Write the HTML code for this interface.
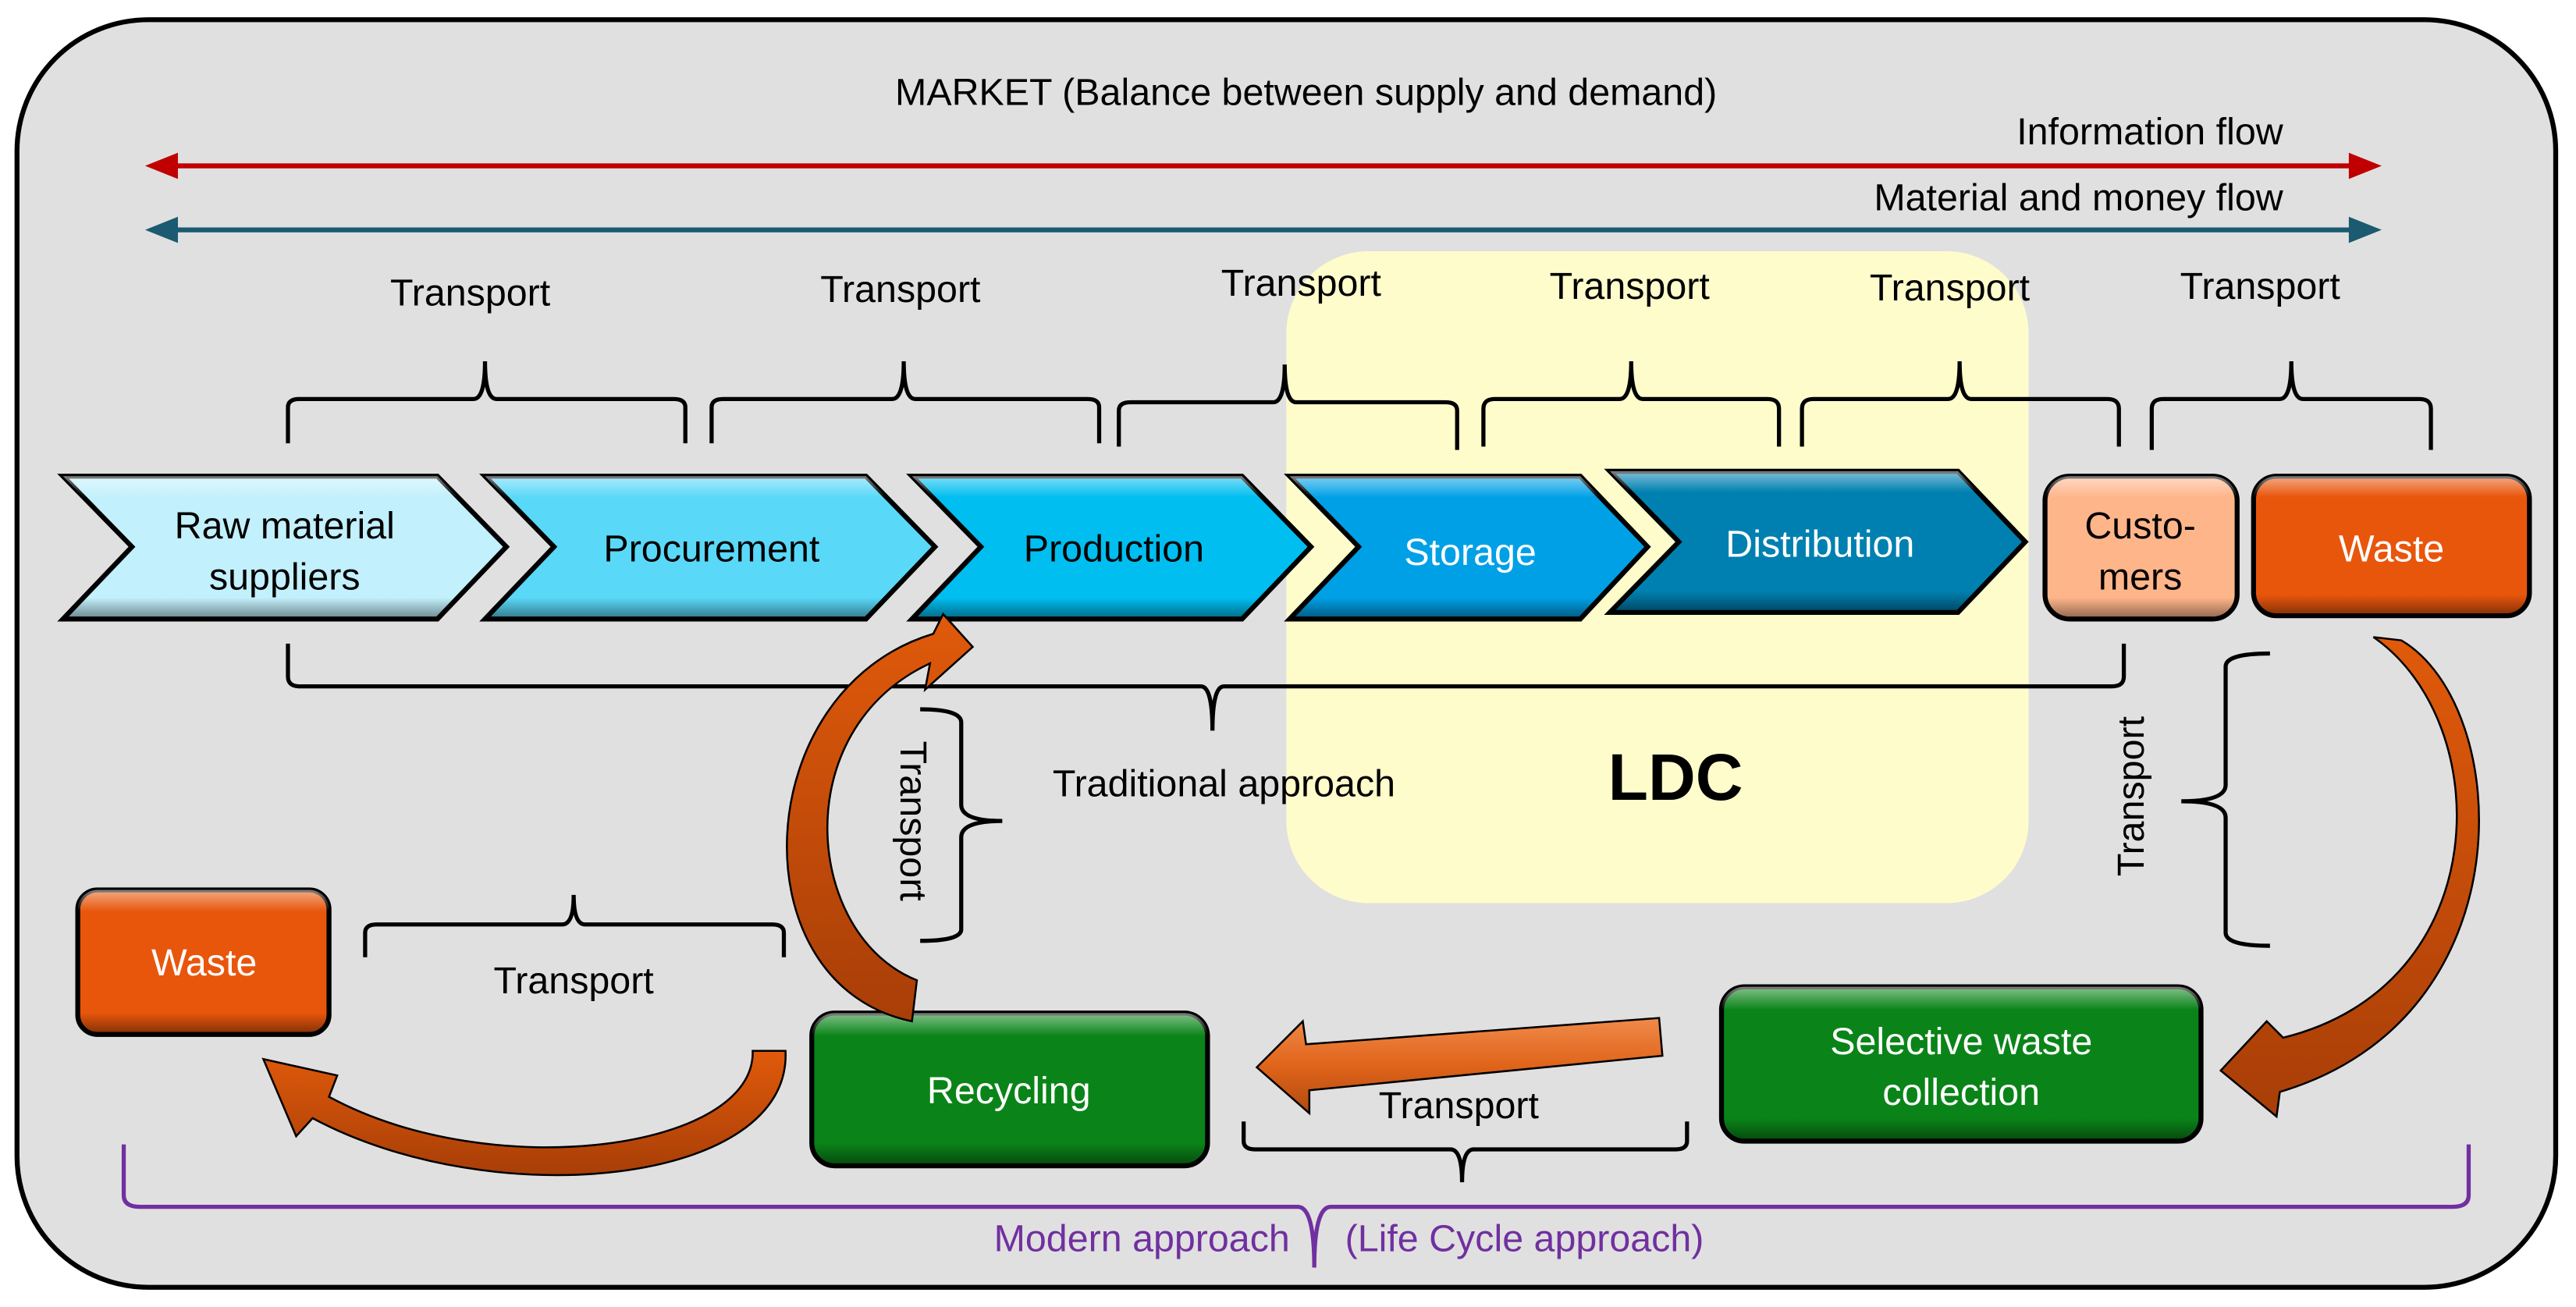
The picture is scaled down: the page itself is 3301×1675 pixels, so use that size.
<!DOCTYPE html>
<html><head><meta charset="utf-8"><style>
html,body{margin:0;padding:0;background:#fff}
svg{display:block}
text{font-family:"Liberation Sans",sans-serif}
</style></head><body>
<svg width="3301" height="1675" viewBox="0 0 1568 796" xmlns="http://www.w3.org/2000/svg">
<defs>
<linearGradient id="gl" x1="0" y1="0" x2="0" y2="1">
<stop offset="0" stop-color="#fff" stop-opacity="0.5"/><stop offset="0.15" stop-color="#fff" stop-opacity="0"/>
<stop offset="0.85" stop-color="#000" stop-opacity="0"/><stop offset="1" stop-color="#000" stop-opacity="0.45"/>
</linearGradient>
<linearGradient id="og" x1="0" y1="0" x2="0" y2="1"><stop offset="0" stop-color="#e05a0a"/><stop offset="1" stop-color="#a83e08"/></linearGradient>
<linearGradient id="og2" x1="0" y1="0" x2="0" y2="1"><stop offset="0" stop-color="#f08a4a"/><stop offset="0.5" stop-color="#e0641a"/><stop offset="1" stop-color="#b04a10"/></linearGradient>
</defs>
<rect x="10" y="12" width="1546" height="772" rx="80" fill="#e0e0e0" stroke="#000" stroke-width="3"/>
<rect x="783" y="153" width="452" height="397" rx="50" fill="#fffccc"/>

<g font-size="23">
<text x="795" y="64" text-anchor="middle">MARKET (Balance between supply and demand)</text>
<text x="1390" y="88" text-anchor="end">Information flow</text>
<text x="1390" y="128" text-anchor="end">Material and money flow</text>
</g>
<line x1="100" y1="101" x2="1438" y2="101" stroke="#c00000" stroke-width="3"/>
<polygon points="88,101 108,93 108,109" fill="#c00000"/><polygon points="1450,101 1430,93 1430,109" fill="#c00000"/>
<line x1="100" y1="140" x2="1438" y2="140" stroke="#1b5a70" stroke-width="3"/>
<polygon points="88,140 108,132 108,148" fill="#1b5a70"/><polygon points="1450,140 1430,132 1430,148" fill="#1b5a70"/>

<g font-size="23" text-anchor="middle">
<text x="286" y="186">Transport</text><text x="548" y="184">Transport</text><text x="792" y="180">Transport</text>
<text x="992" y="182">Transport</text><text x="1187" y="183">Transport</text><text x="1376" y="182">Transport</text>
</g>
<g fill="none" stroke="#000" stroke-width="2.5">
<path d="M175 270 V248 Q175 243 182 243 H288 Q295 243 295 220 Q295 243 302 243 H410 Q417 243 417 248 V270"/>
<path d="M433 270 V248 Q433 243 440 243 H543 Q550 243 550 220 Q550 243 557 243 H662 Q669 243 669 248 V270"/>
<path d="M681 272 V250 Q681 245 688 245 H775 Q782 245 782 222 Q782 245 789 245 H880 Q887 245 887 250 V274"/>
<path d="M903 272 V249 Q903 243 910 243 H986 Q993 243 993 220 Q993 243 1000 243 H1076 Q1083 243 1083 249 V272"/>
<path d="M1097 272 V249 Q1097 243 1104 243 H1186 Q1193 243 1193 220 Q1193 243 1200 243 H1283 Q1290 243 1290 249 V272"/>
<path d="M1310 274 V249 Q1310 243 1317 243 H1388 Q1395 243 1395 220 Q1395 243 1402 243 H1473 Q1480 243 1480 249 V274"/>
<path d="M175 392 V412 Q175 418 182 418 H731 Q738 418 738 445 Q738 418 745 418 H1286 Q1293 418 1293 412 V392"/>
<path d="M560 432 Q585 432 585 440 V490 Q585 500 610 500 Q585 500 585 510 V566 Q585 573 560 573"/>
<path d="M1382 398 Q1355 398 1355 406 V478 Q1355 488 1328 488 Q1355 488 1355 498 V568 Q1355 576 1382 576"/>
<path d="M222 583 V568 Q222 563 229 563 H342 Q349 563 349 545 Q349 563 356 563 H470 Q477 563 477 568 V583"/>
<path d="M757 683 V695 Q757 700 764 700 H883 Q890 700 890 720 Q890 700 897 700 H1020 Q1027 700 1027 695 V683"/>
</g>
<path d="M75 697 V728 Q75 735 85 735 H790 Q800 735 800 772 Q800 735 810 735 H1493 Q1503 735 1503 728 V697" fill="none" stroke="#7030a0" stroke-width="2.5"/>

<g stroke="#000" stroke-width="3">
<path d="M38 290 H266 L308 333 L266 377 H38 L80 333 Z" fill="#c2f0fc"/>
<path d="M295 290 H527 L569 333 L527 377 H295 L337 333 Z" fill="#5ad8f8"/>
<path d="M555 290 H756 L798 333 L756 377 H555 L597 333 Z" fill="#00bef0"/>
<path d="M785 290 H962 L1003 333 L962 377 H785 L827 333 Z" fill="#00a0e6"/>
<path d="M980 287 H1192 L1233 330 L1192 373 H980 L1022 330 Z" fill="#0080b0"/>
<rect x="1245" y="290" width="117" height="87" rx="15" fill="#ffb58a"/>
<rect x="1372" y="290" width="168" height="85" rx="14" fill="#e8560c"/>
<rect x="47" y="542" width="153" height="88" rx="12" fill="#e8560c"/>
<rect x="494" y="617" width="241" height="93" rx="14" fill="#0a8418"/>
<rect x="1048" y="601" width="292" height="94" rx="14" fill="#0a8418"/>
</g>
<g stroke="none" fill="url(#gl)">
<path d="M38 290 H266 L308 333 L266 377 H38 L80 333 Z"/><path d="M295 290 H527 L569 333 L527 377 H295 L337 333 Z"/>
<path d="M555 290 H756 L798 333 L756 377 H555 L597 333 Z"/><path d="M785 290 H962 L1003 333 L962 377 H785 L827 333 Z"/>
<path d="M980 287 H1192 L1233 330 L1192 373 H980 L1022 330 Z"/>
<rect x="1245" y="290" width="117" height="87" rx="15"/><rect x="1372" y="290" width="168" height="85" rx="14"/>
<rect x="47" y="542" width="153" height="88" rx="12"/><rect x="494" y="617" width="241" height="93" rx="14"/>
<rect x="1048" y="601" width="292" height="94" rx="14"/>
</g>

<g font-size="23" text-anchor="middle">
<text x="173" y="328">Raw material</text><text x="173" y="359">suppliers</text>
<text x="433" y="342">Procurement</text><text x="678" y="342">Production</text>
<text x="895" y="344" fill="#fff">Storage</text><text x="1108" y="339" fill="#fff">Distribution</text>
<text x="1303" y="328">Custo-</text><text x="1303" y="359">mers</text>
<text x="1456" y="342" fill="#fff">Waste</text><text x="124" y="594" fill="#fff">Waste</text>
<text x="614" y="672" fill="#fff">Recycling</text>
<text x="1194" y="642" fill="#fff">Selective waste</text><text x="1194" y="673" fill="#fff">collection</text>
<text x="745" y="485">Traditional approach</text>
<text x="349" y="605">Transport</text><text x="888" y="681">Transport</text>
<text x="695" y="762" fill="#7030a0">Modern approach</text><text x="928" y="762" fill="#7030a0">(Life Cycle approach)</text>
<text transform="translate(548,500) rotate(90)">Transport</text>
<text transform="translate(1305,485) rotate(-90)">Transport</text>
</g>
<text x="1020" y="487" font-size="40" font-weight="bold" text-anchor="middle">LDC</text>

<g stroke="#000" stroke-width="1.2">
<path d="M558 597 C490 570 478 445 566 404 L563 420 L592 394 L574 374 L568 386 C455 420 448 600 555 622 Z" fill="url(#og)"/>
<path d="M1445 388 C1520 440 1520 600 1390 632 L1380 622 L1352 652 L1386 680 L1388 665 C1540 620 1530 430 1462 390 Z" fill="url(#og)"/>
<path d="M458 640 C460 700 300 722 200 668 L205 655 L160 645 L180 692 L190 681 C300 740 482 722 478 640 Z" fill="url(#og)"/>
<path d="M1010 620 L795 636 L793 622 L765 650 L797 678 L797 664 L1012 643 Z" fill="url(#og2)"/>
</g>
</svg>
</body></html>
